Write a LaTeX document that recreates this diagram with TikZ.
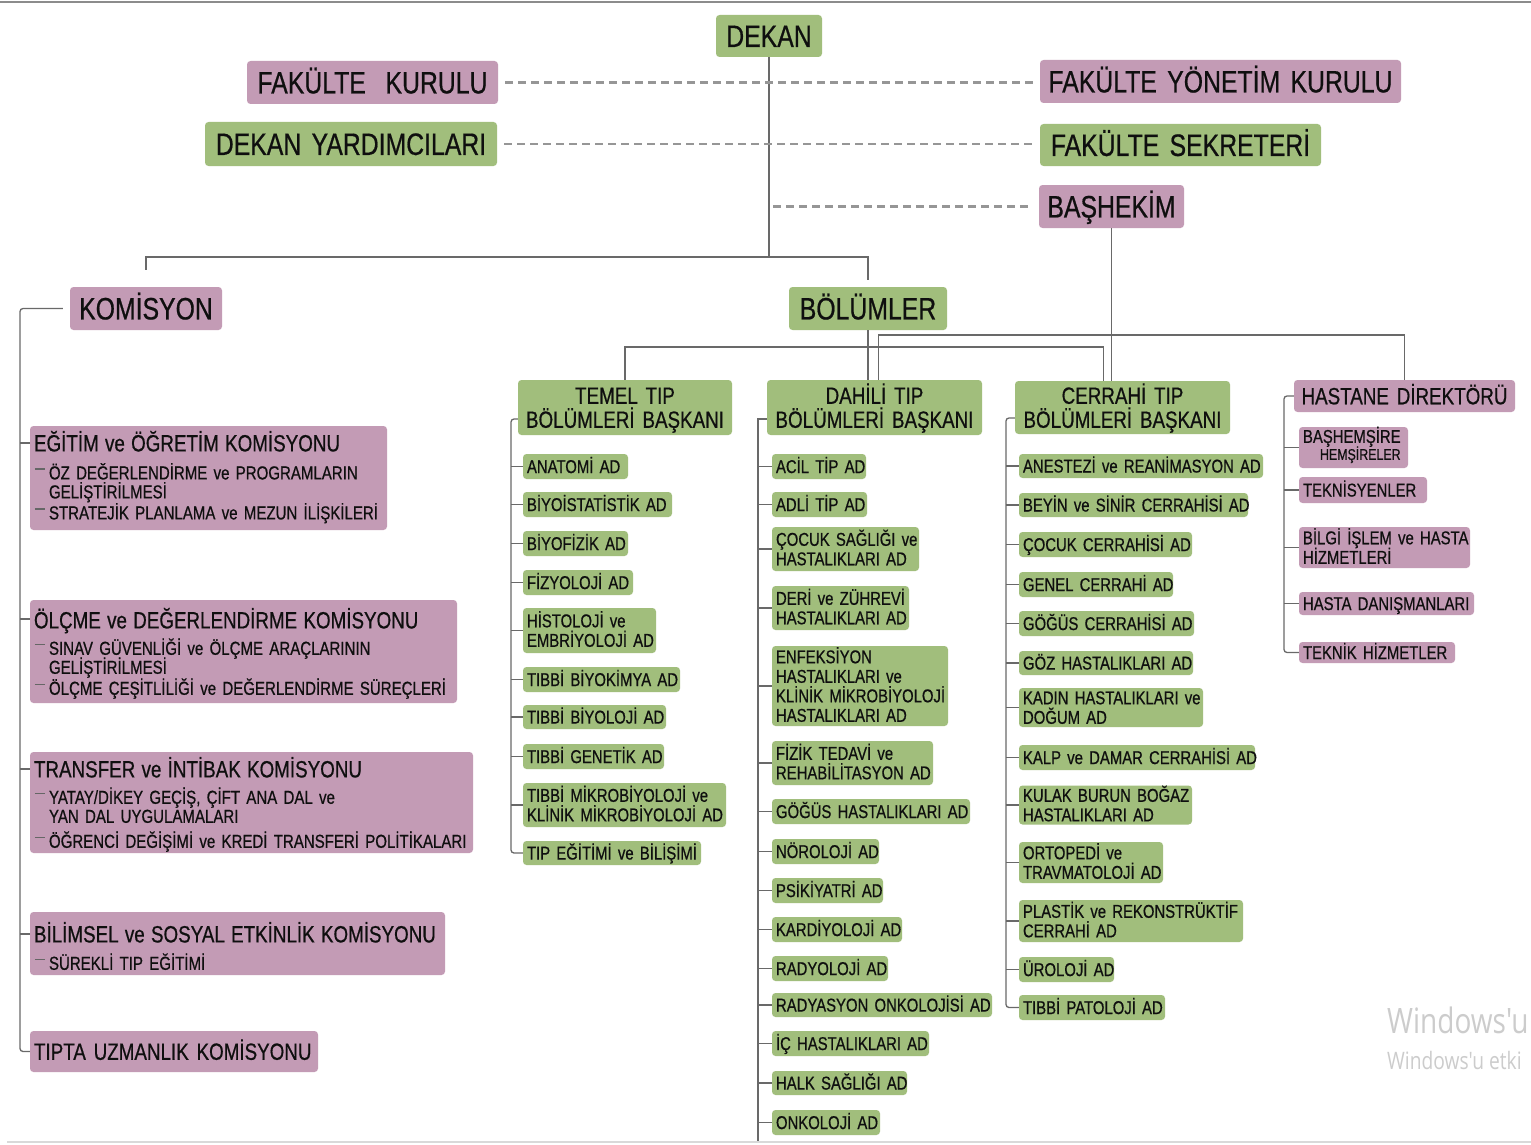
\documentclass[tikz,border=0pt]{standalone}
\usepackage{fontspec}
\usepackage{array}
\setmainfont[FakeStretch=0.80,FakeBold=0.6]{Liberation Sans}
\newfontfamily\wfont[FakeStretch=0.8]{Open Sans}
\definecolor{gfill}{RGB}{161,190,124}
\definecolor{pfill}{RGB}{195,155,181}
\definecolor{txt}{RGB}{15,15,15}
\definecolor{lncol}{RGB}{105,105,105}
\definecolor{dcol}{RGB}{150,150,150}
\newcommand\fA{\fontsize{31}{33}\selectfont}
\newcommand\fB{\fontsize{23.5}{24}\selectfont}
\newcommand\fC{\fontsize{18.8}{20}\selectfont}
\newcommand\fD{\fontsize{18.6}{19.5}\selectfont}
\newcommand\fE{\fontsize{15.5}{15.5}\selectfont}
\newcommand\vsh{0pt}
\newcolumntype{L}{>{\setbox0\hbox\bgroup}l<{\egroup\ht0=0pt\dp0=0pt\box0}}
\newcolumntype{C}{>{\setbox0\hbox\bgroup}c<{\egroup\ht0=0pt\dp0=0pt\box0}}
\newcommand\sbd{\makebox[15pt][l]{\hspace*{1pt}\textcolor{black!60}{\rule[0.52em]{10pt}{1.2pt}}}}
\newcommand\sbc{\hspace*{15pt}}
\newcommand\bx[8]{%
 \pgfmathsetmacro\bxw{#5-#3}%
 \pgfmathsetmacro\bxt{#5-#3-8}%
 \pgfmathsetmacro\bxh{#6-#4}%
 \pgfmathsetmacro\bxx{(#3+#5)/2}%
 \pgfmathsetmacro\bxy{(#4+#6)/2}%
 \node[#2, text width=\bxt pt, minimum width=\bxw pt, minimum height=\bxh pt] (#1) at (\bxx,\bxy)
   {\raisebox{-\vsh}[\height][\depth]{\begin{tabular}{@{}#7@{}}#8\end{tabular}}};}
\newcommand\gitem[7][]{\bx{#2}{gbox,item,#1}{#3}{#4}{#5}{#6}{L}{#7}}
\newcommand\pitem[7][]{\bx{#2}{pbox,item,#1}{#3}{#4}{#5}{#6}{L}{#7}}
\tikzset{
 vsh/.code={\def\vsh{#1}},
 bxbase/.style={rounded corners=3.5pt, inner xsep=4pt, inner ysep=0pt, text=txt},
 gbox/.style={bxbase, fill=gfill},
 pbox/.style={bxbase, fill=pfill},
 item/.style={font=\fD, align=left, vsh=2.65pt},
 bigbox/.style={font=\fA, align=center, vsh=4.35pt},
 hdr/.style={font=\fB, align=center, vsh=3.5pt},
 kom/.style={font=\fC, align=left},
 conn/.style={draw=lncol, line width=1.3pt},
 dline/.style={draw=dcol, line width=2.2pt, dash pattern=on 8pt off 5pt},
}
\begin{document}
\begin{tikzpicture}[x=1pt,y=-1pt]
\useasboundingbox (0,0) rectangle (1531,1145);
\fill[white] (0,0) rectangle (1531,1145);
\draw[black!45, line width=2pt] (0,2) -- (1531,2);
\draw[black!15, line width=1.5pt] (7,1142) -- (1531,1142);

% top level
\bx{dekan}{gbox,bigbox}{716}{15}{822}{57}{C}{DEKAN}
\bx{fkurul}{pbox,bigbox}{247}{61}{498}{104}{C}{FAKÜLTE\hspace{0.3em} KURULU}
\bx{fyk}{pbox,bigbox}{1040}{60}{1401}{103}{C}{FAKÜLTE YÖNETİM KURULU}
\bx{dyard}{gbox,bigbox}{205}{122}{497}{166}{C}{DEKAN YARDIMCILARI}
\bx{fsek}{gbox,bigbox}{1040}{124}{1321}{166}{C}{FAKÜLTE SEKRETERİ}
\bx{bashekim}{pbox,bigbox}{1039}{185}{1184}{228}{C}{BAŞHEKİM}
\bx{komisyon}{pbox,bigbox}{70}{287}{222}{330}{C}{KOMİSYON}
\bx{bolumler}{gbox,bigbox}{789}{287}{947}{330}{C}{BÖLÜMLER}

% headers
\bx{temel}{gbox,hdr}{518}{380}{732}{435}{C}{TEMEL TIP\\BÖLÜMLERİ BAŞKANI}
\bx{dahili}{gbox,hdr}{767}{380}{982}{435}{C}{DAHİLİ TIP\\BÖLÜMLERİ BAŞKANI}
\bx{cerrahi}{gbox,hdr}{1015}{381}{1230}{434}{C}{CERRAHİ TIP\\BÖLÜMLERİ BAŞKANI}
\bx{hastane}{pbox,hdr}{1294}{380}{1515}{412}{C}{HASTANE DİREKTÖRÜ}

% commissions
\bx{egitim}{pbox,kom,vsh=3.4pt}{30}{426}{387}{530}{L}{{\fB EĞİTİM ve ÖĞRETİM KOMİSYONU}\\[8pt] \sbd ÖZ DEĞERLENDİRME ve PROGRAMLARIN\\[-1pt] \sbc GELİŞTİRİLMESİ\\[1pt] \sbd STRATEJİK PLANLAMA ve MEZUN İLİŞKİLERİ}
\bx{olcme}{pbox,kom,vsh=6.1pt}{30}{600}{457}{703}{L}{{\fB ÖLÇME ve DEĞERLENDİRME KOMİSYONU}\\[6.4pt] \sbd SINAV GÜVENLİĞİ ve ÖLÇME ARAÇLARININ\\[-1pt] \sbc GELİŞTİRİLMESİ\\[1pt] \sbd ÖLÇME ÇEŞİTLİLİĞİ ve DEĞERLENDİRME SÜREÇLERİ}
\bx{transfer}{pbox,kom,vsh=6.1pt}{30}{752}{473}{853}{L}{{\fB TRANSFER ve İNTİBAK KOMİSYONU}\\[6.4pt] \sbd YATAY/DİKEY GEÇİŞ, ÇİFT ANA DAL ve\\[-1pt] \sbc YAN DAL UYGULAMALARI\\[5pt] \sbd ÖĞRENCİ DEĞİŞİMİ ve KREDİ TRANSFERİ POLİTİKALARI}
\bx{bilimsel}{pbox,kom,vsh=8.6pt}{30}{912}{445}{975}{L}{{\fB BİLİMSEL ve SOSYAL ETKİNLİK KOMİSYONU}\\[7.4pt] \sbd SÜREKLİ TIP EĞİTİMİ}
\bx{tipta}{pbox,hdr,align=left}{30}{1031}{318}{1072}{L}{TIPTA UZMANLIK KOMİSYONU}

% temel items
\gitem{anatomi}{523}{454}{628}{479}{ANATOMİ AD}
\gitem{biyoist}{523}{492}{672}{517}{BİYOİSTATİSTİK AD}
\gitem{biyofiz}{523}{531}{628}{556}{BİYOFİZİK AD}
\gitem{fizyo}{523}{570}{633}{595}{FİZYOLOJİ AD}
\gitem{histo}{523}{608}{656}{653}{HİSTOLOJİ ve\\EMBRİYOLOJİ AD}
\gitem{biyokim}{523}{667}{680}{692}{TIBBİ BİYOKİMYA AD}
\gitem{biyoloji}{523}{705}{666}{729}{TIBBİ BİYOLOJİ AD}
\gitem{genetik}{523}{744}{664}{769}{TIBBİ GENETİK AD}
\gitem{mikro}{523}{783}{726}{827}{TIBBİ MİKROBİYOLOJİ ve\\KLİNİK MİKROBİYOLOJİ AD}
\gitem{tipegitim}{523}{841}{701}{865}{TIP EĞİTİMİ ve BİLİŞİMİ}

% dahili items
\gitem{acil}{772}{454}{866}{479}{ACİL TİP AD}
\gitem{adli}{772}{492}{867}{517}{ADLİ TİP AD}
\gitem{cocuk}{772}{527}{919}{571}{ÇOCUK SAĞLIĞI ve\\HASTALIKLARI AD}
\gitem{deri}{772}{586}{909}{630}{DERİ ve ZÜHREVİ\\HASTALIKLARI AD}
\gitem{enf}{772}{646}{948}{726}{ENFEKSİYON\\HASTALIKLARI ve\\KLİNİK MİKROBİYOLOJİ\\HASTALIKLARI AD}
\gitem{fizik}{772}{741}{933}{785}{FİZİK TEDAVİ ve\\REHABİLİTASYON AD}
\gitem{gogush}{772}{799}{970}{824}{GÖĞÜS HASTALIKLARI AD}
\gitem{norol}{772}{839}{879}{864}{NÖROLOJİ AD}
\gitem{psik}{772}{878}{883}{903}{PSİKİYATRİ AD}
\gitem{kard}{772}{917}{902}{942}{KARDİYOLOJİ AD}
\gitem{rady}{772}{956}{888}{981}{RADYOLOJİ AD}
\gitem{radonk}{772}{993}{992}{1017}{RADYASYON ONKOLOJİSİ AD}
\gitem{ich}{772}{1031}{929}{1056}{İÇ HASTALIKLARI AD}
\gitem{halk}{772}{1071}{907}{1095}{HALK SAĞLIĞI AD}
\gitem{onk}{772}{1110}{880}{1135}{ONKOLOJİ AD}

% cerrahi items
\gitem{anest}{1019}{454}{1263}{478}{ANESTEZİ ve REANİMASYON AD}
\gitem{beyin}{1019}{493}{1248}{517}{BEYİN ve SİNİR CERRAHİSİ AD}
\gitem{cocukc}{1019}{532}{1192}{557}{ÇOCUK CERRAHİSİ AD}
\gitem{genel}{1019}{572}{1173}{597}{GENEL CERRAHİ AD}
\gitem{goguscerr}{1019}{611}{1194}{636}{GÖĞÜS CERRAHİSİ AD}
\gitem{goz}{1019}{651}{1193}{675}{GÖZ HASTALIKLARI AD}
\gitem{kadin}{1019}{688}{1203}{727}{KADIN HASTALIKLARI ve\\DOĞUM AD}
\gitem{kalp}{1019}{745}{1255}{770}{KALP ve DAMAR CERRAHİSİ AD}
\gitem{kulak}{1019}{786}{1192}{824}{KULAK BURUN BOĞAZ\\HASTALIKLARI AD}
\gitem{orto}{1019}{842}{1163}{883}{ORTOPEDİ ve\\TRAVMATOLOJİ AD}
\gitem{plastik}{1019}{900}{1243}{942}{PLASTİK ve REKONSTRÜKTİF\\CERRAHİ AD}
\gitem{uroloji}{1019}{957}{1114}{982}{ÜROLOJİ AD}
\gitem{patoloji}{1019}{995}{1165}{1020}{TIBBİ PATOLOJİ AD}

% hastane items
\pitem[vsh=0pt]{bashem}{1299}{427}{1408}{468}{BAŞHEMŞİRE\\[-2.5pt] \hspace*{17pt}{\fE HEMŞİRELER}}
\pitem{teknis}{1299}{477}{1427}{503}{TEKNİSYENLER}
\pitem{bilgi}{1299}{527}{1470}{568}{BİLGİ İŞLEM ve HASTA\\HİZMETLERİ}
\pitem{hdan}{1299}{592}{1474}{615}{HASTA DANIŞMANLARI}
\pitem{teknikh}{1299}{642}{1455}{663}{TEKNİK HİZMETLER}

% ---------- connectors ----------
\coordinate (hy) at (0,257);
\draw[conn] (dekan.south) -- (dekan.south |- hy);
\draw[conn] ([yshift=17pt]komisyon.north) -- (komisyon.north |- hy) -- (bolumler.north |- hy) -- ([yshift=7pt]bolumler.north);

\draw[dline, shorten <=7pt, shorten >=7pt] (fkurul.east) -- (fkurul.east -| fyk.west);
\draw[dline, shorten <=7pt, shorten >=7pt] (dyard.east) -- (dyard.east -| fsek.west);
\path (dekan.south |- bashekim.west) ++(4pt,0) coordinate (bhs);
\draw[dline, shorten >=7pt] (bhs) -- (bashekim.west);

\draw[conn] (bashekim.south) -- (bashekim.south |- cerrahi.north);
\draw[conn] (bolumler.south) -- (bolumler.south |- dahili.north);
\coordinate (ly) at (0,347);
\path (cerrahi.north) ++(-19pt,0) coordinate (cdrop);
\draw[conn] (temel.north) -- (temel.north |- ly) -- (cdrop |- ly) -- (cdrop);
\coordinate (uy) at (0,335);
\path (dahili.north) ++(4pt,0) coordinate (ddrop);
\draw[conn] (ddrop) -- (ddrop |- uy) -| (hastane.north);

% komisyon trunk
\coordinate (kx) at (20,0);
\draw[conn, rounded corners=3pt] ([xshift=-7pt]komisyon.west) -- (komisyon.west -| kx) |- (tipta.west);
\coordinate (k1) at (20,443);
\coordinate (k2) at (20,619);
\coordinate (k3) at (20,769);
\coordinate (k4) at (20,934);
\draw[conn] (k1) -- (k1 -| egitim.west);
\draw[conn] (k2) -- (k2 -| olcme.west);
\draw[conn] (k3) -- (k3 -| transfer.west);
\draw[conn] (k4) -- (k4 -| bilimsel.west);

% temel trunk
\coordinate (tt) at (511,419);
\draw[conn, rounded corners=3pt] (tt -| temel.west) -- (tt) |- (tipegitim.west);
\foreach \n in {anatomi,biyoist,biyofiz,fizyo,histo,biyokim,biyoloji,genetik,mikro}
  \draw[conn] (tt |- \n.west) -- (\n.west);

% dahili trunk
\coordinate (dt) at (758,419);
\coordinate (bot) at (0,1141);
\draw[conn] (dt -| dahili.west) -- (dt) -- (dt |- bot);
\foreach \n in {acil,adli,cocuk,deri,enf,fizik,gogush,norol,psik,kard,rady,radonk,ich,halk,onk}
  \draw[conn] (dt |- \n.west) -- (\n.west);

% cerrahi trunk
\coordinate (ct) at (1006,418);
\draw[conn, rounded corners=3pt] (ct -| cerrahi.west) -- (ct) |- (patoloji.west);
\foreach \n in {anest,beyin,cocukc,genel,goguscerr,goz,kadin,kalp,kulak,orto,plastik,uroloji}
  \draw[conn] (ct |- \n.west) -- (\n.west);

% hastane trunk
\coordinate (ht) at (1284,0);
\draw[conn, rounded corners=3pt] (hastane.west) -- (hastane.west -| ht) |- (teknikh.west);
\foreach \n in {bashem,teknis,bilgi,hdan}
  \draw[conn] (ht |- \n.west) -- (\n.west);

% watermark
\begin{scope}
\clip (0,0) rectangle (1531,1145);
\node[anchor=base west, inner sep=0pt, text=black!20, font=\wfont\fontsize{35}{35}\selectfont] (wm1) at (1387,1033) {Windows'u};
\node[anchor=base west, inner sep=0pt, text=black!20, font=\wfont\fontsize{24}{24}\selectfont] (wm2) at (1387,1069) {Windows'u etki};
\end{scope}
\end{tikzpicture}
\end{document}
